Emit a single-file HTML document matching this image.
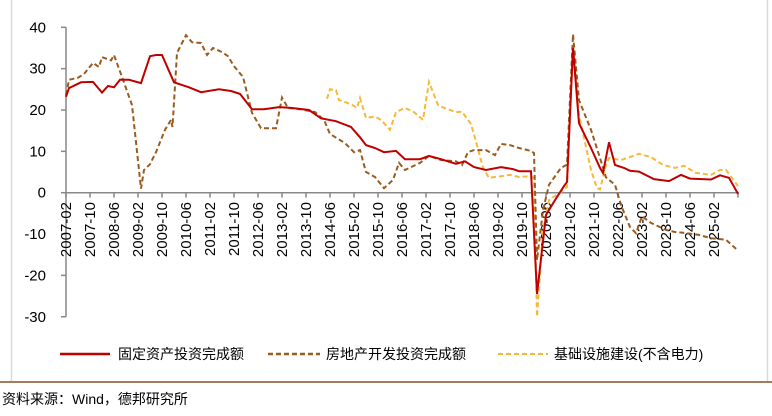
<!DOCTYPE html>
<html><head><meta charset="utf-8"><style>
body{margin:0;background:#fff;width:772px;height:411px;overflow:hidden;font-family:"Liberation Sans","Noto Sans CJK SC",sans-serif;}
</style></head><body>
<svg id="chart" width="772" height="411" xmlns="http://www.w3.org/2000/svg">
<line x1="11.5" y1="0" x2="11.5" y2="381" stroke="#d9d9d9" stroke-width="1.5"/>
<line x1="767.5" y1="0" x2="767.5" y2="381" stroke="#d9d9d9" stroke-width="1.5"/>
<line x1="0" y1="382" x2="772" y2="382" stroke="#a57c5b" stroke-width="2"/>
<g id="yaxis"></g>
<g id="xaxis"></g>
<g id="series"></g>
<g font-size="14" fill="#000">
 <g>
  <line x1="60" y1="354" x2="110" y2="354" stroke="#c00000" stroke-width="2.5"/>
  <text x="118" y="359" font-size="14">固定资产投资完成额</text>
 </g>
 <g>
  <line x1="268" y1="354" x2="320" y2="354" stroke="#9c5b1e" stroke-width="2.5" stroke-dasharray="5,3"/>
  <text x="326" y="359" font-size="14">房地产开发投资完成额</text>
 </g>
 <g>
  <line x1="498" y1="354" x2="548" y2="354" stroke="#f5b93a" stroke-width="2" stroke-dasharray="5,3"/>
  <text x="554" y="359" font-size="14">基础设施建设(不含电力)</text>
 </g>
</g>
<text x="2" y="404" font-size="14" fill="#000">资料来源：Wind，德邦研究所</text>
</svg>
<script>
const tickLabels=["2007-02","2007-10","2008-06","2009-02","2009-10","2010-06","2011-02","2011-10","2012-06","2013-02","2013-10","2014-06","2015-02","2015-10","2016-06","2017-02","2017-10","2018-06","2019-02","2019-10","2020-06","2021-02","2021-10","2022-06","2023-02","2023-10","2024-06","2025-02"];
const yTicks=[40,30,20,10,0,-10,-20,-30];
// month index from 2007-02
const fixedMonths=[0,1,5,9,12,14,16,18,21,25,28,30,32,36,41,45,51,55,58,62,66,71,75,81,85,90,95,98,100,103,106,110,113,118,121,125,130,133,136,140,145,149,151,155,157,160,163,166,167,169,171,175,178,179,181,183,186,188,191,196,201,205,208,215,218,221,224];
const fixedValues=[23.2,25.3,26.7,26.8,24.2,25.8,25.5,27.3,27.3,26.5,33,33.3,33.3,26.7,25.5,24.3,25,24.6,23.9,20.2,20.2,20.7,20.5,20,18,17.3,15.9,13.4,11.5,10.8,9.8,10.1,8.1,8.1,8.9,8.1,7,7.6,6.2,5.5,6.2,5.7,5.2,5.2,-24.5,-5.4,-1.8,1.6,2.6,35,16.8,10.8,6,4.8,12.2,6.7,6,5.3,5.1,3.3,2.8,4.3,3.4,3.2,4.2,3.6,-0.3];
const reMonths=[0,1,4,6,9,11,12,15,16,19,22,25,26,28,30,33,35,35.5,37,40,42,45,47,49,52,54,56,59,62,65,70,72,74,78,83,86,88,93,96,98,100,103,106,109,111,113,118,121,125,130,132,134,136,140,143,145,148,151,155,156,157,159,161,165,167,169,171,175,178,180,183,185,188,190,192,195,200,203,207,211,215,220,224];
const reValues=[23.6,27.3,27.8,28.7,31.4,30.4,32.8,32,33.3,27.3,21.2,1,5.5,6.9,9.8,15.2,17.6,15.9,33.8,38.1,36.4,36.2,33.3,35,34,33,30.6,28,19.3,15.6,15.6,23,20.5,20.2,19.5,17.6,14.2,12,9.8,10.3,5,3.8,1.1,3.1,7.2,5.5,7.2,8.9,7.9,7.6,6.7,9.8,10.3,10.3,9.1,11.8,11.5,10.8,10.1,9.6,-16.3,-4.2,1.9,6,6.8,38.3,22.4,15.2,8.4,3.7,1.9,-3,-8.3,-9.8,-5.7,-7.3,-9,-9.5,-9.8,-10.2,-11,-11.4,-14];
const infraMonths=[87,88,90,91,95,97,98,100,103,105,108,110,113,116,119,121,124,126,130,132,135,137,139,141,145,148,151,155,156,157,159,161,165,167,169,171,175,177,178,180,181,185,189,191,195,199,203,206,210,215,218,220,224];
const infraValues=[22.7,25,24.8,22.4,21.4,20.5,22.9,18.1,18.4,17.6,15.2,19.5,20.5,19.5,17.6,26.8,21.2,20.5,19.5,19.6,16.6,11.5,6,3.6,4,4.3,3.8,4,3.4,-30,-9,-1.8,0.2,1.4,35.4,18.8,5.5,1.1,0.8,6.7,8.4,7.9,8.9,9.4,8.6,6.7,6,6.5,4.8,4.3,5.5,5.5,1.6];

const NS="http://www.w3.org/2000/svg";
const x0=66,pxPerMonth=3,yZero=192.7,pxPerUnit=4.135;
function xS(m){return x0+m*pxPerMonth;}
function yS(v){return yZero-v*pxPerUnit;}
function mk(tag,attrs,parent){const e=document.createElementNS(NS,tag);for(const k in attrs)e.setAttribute(k,attrs[k]);parent.appendChild(e);return e;}

const ya=document.getElementById('yaxis');
const yl=mk('line',{x1:x0,y1:yS(40),x2:x0,y2:yS(-30),stroke:'#888','stroke-width':1.5},ya);


yTicks.forEach(v=>{
 const t=mk('line',{x1:x0-5,y1:yS(v),x2:x0,y2:yS(v),stroke:'#888','stroke-width':1.5},ya);
 
 
 const tx=mk('text',{x:x0-20,y:yS(v)+5,'text-anchor':'end','font-size':15,fill:'#000'},ya);
 tx.textContent=String(v);
 
 
});
const xa=document.getElementById('xaxis');
const xl=mk('line',{x1:x0,y1:yZero,x2:xS(224)+1,y2:yZero,stroke:'#888','stroke-width':1.5},xa);


for(let i=0;i<=tickLabels.length;i++){
 const x=xS(i*8);
 const t=mk('line',{x1:x,y1:yZero,x2:x,y2:yZero+5,stroke:'#888','stroke-width':1.5},xa);
 
 
}
tickLabels.forEach((lab,i)=>{
 const x=xS(i*8)+5;
 const tx=mk('text',{x:0,y:0,'text-anchor':'end','font-size':15,fill:'#000',transform:`translate(${x},202) rotate(-90)`},xa);
 tx.textContent=lab;
 
 
});
const sg=document.getElementById('series');
function path(ms,vs){return ms.map((m,i)=>(i?'L':'M')+xS(m).toFixed(1)+','+yS(vs[i]).toFixed(1)).join(' ');}
const p3=mk('path',{d:path(infraMonths,infraValues),fill:'none',stroke:'#f5b93a','stroke-width':2,'stroke-dasharray':'5,3'},sg);


const p2=mk('path',{d:path(reMonths,reValues),fill:'none',stroke:'#9c5b1e','stroke-width':2,'stroke-dasharray':'5,3'},sg);


const p1=mk('path',{d:path(fixedMonths,fixedValues),fill:'none',stroke:'#c00000','stroke-width':2},sg);


</script>
</body></html>
